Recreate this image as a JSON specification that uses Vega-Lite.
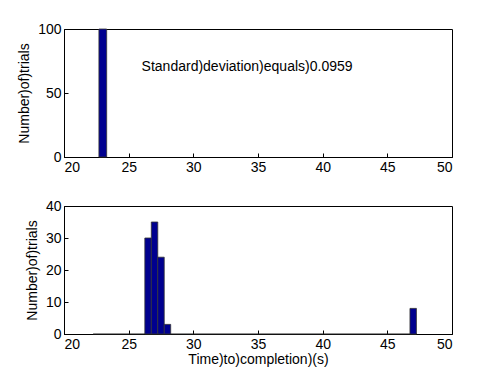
{
  "$schema": "https://vega.github.io/schema/vega-lite/v6.json",
  "padding": {"left": 17, "top": 21, "right": 5, "bottom": 0},
  "spacing": 23,
  "config": {
    "font": "Liberation Sans",
    "view": {"stroke": "black", "strokeWidth": 1},
    "axis": {
      "domainColor": "black", "tickColor": "black", "labelColor": "black", "titleColor": "black",
      "labelFont": "Liberation Sans", "titleFont": "Liberation Sans",
      "labelFontSize": 14, "titleFontSize": 14, "titleFontWeight": "normal",
      "grid": false, "tickSize": -4, "labelPadding": 7
    }
  },
  "vconcat": [
    {
      "width": 388, "height": 128,
      "encoding": {
        "x": {"field": "x0", "type": "quantitative", "scale": {"domain": [20, 50], "nice": false},
              "axis": {"values": [20, 25, 30, 35, 40, 45, 50], "title": null}},
        "y": {"field": "y", "type": "quantitative", "scale": {"domain": [0, 100], "nice": false},
              "axis": {"values": [0, 50, 100], "title": "Number)of)trials", "titlePadding": 6}}
      },
      "layer": [
        {
          "data": {"values": [{"x0": 22.7, "x1": 23.3, "y": 100}]},
          "mark": {"type": "bar", "fill": "#00008f", "stroke": "#333333", "strokeWidth": 0.8},
          "encoding": {
            "x2": {"field": "x1"},
            "y2": {"datum": 0}
          }
        },
        {
          "data": {"values": [{"x0": 26.0, "y": 70, "label": "Standard)deviation)equals)0.0959"}]},
          "mark": {"type": "text", "align": "left", "baseline": "middle", "fontSize": 14, "font": "Liberation Sans", "color": "black"},
          "encoding": {
            "text": {"field": "label"}
          }
        }
      ]
    },
    {
      "width": 388, "height": 128,
      "encoding": {
        "x": {"field": "x0", "type": "quantitative", "scale": {"domain": [20, 50], "nice": false},
              "axis": {"values": [20, 25, 30, 35, 40, 45, 50], "title": "Time)to)completion)(s)", "titlePadding": 1}},
        "x2": {"field": "x1"},
        "y": {"field": "y", "type": "quantitative", "scale": {"domain": [0, 40], "nice": false},
              "axis": {"values": [0, 10, 20, 30, 40], "title": "Number)of)trials", "titlePadding": 6}}
      },
      "layer": [
        {
          "data": {"values": [{"x0": 22.25, "x1": 47.25, "y": 0}]},
          "mark": {"type": "rule", "color": "#222222", "strokeWidth": 1},
          "encoding": {}
        },
        {
          "data": {"values": [
            {"x0": 26.25, "x1": 26.75, "y": 30},
            {"x0": 26.75, "x1": 27.25, "y": 35},
            {"x0": 27.25, "x1": 27.75, "y": 24},
            {"x0": 27.75, "x1": 28.25, "y": 3},
            {"x0": 46.75, "x1": 47.25, "y": 8}
          ]},
          "mark": {"type": "bar", "fill": "#00008f", "stroke": "#333333", "strokeWidth": 0.8},
          "encoding": {
            "y2": {"datum": 0}
          }
        }
      ]
    }
  ]
}
